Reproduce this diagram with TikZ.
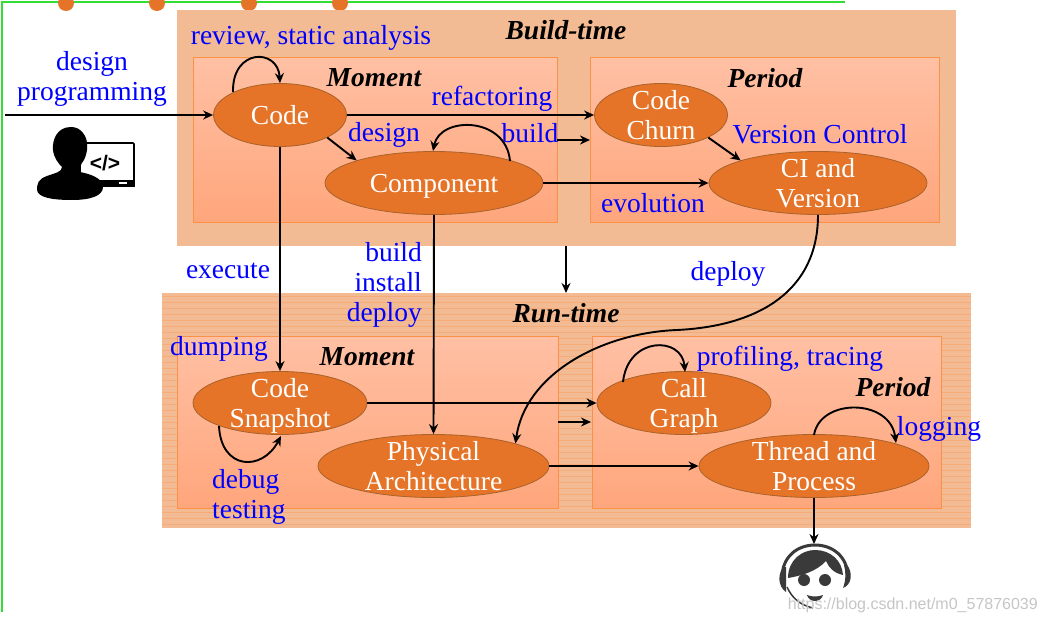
\documentclass[tikz,border=0pt]{standalone}
\usepackage{fontspec}
\setmainfont{Liberation Serif}
\setsansfont{Liberation Sans}
\usetikzlibrary{arrows.meta,shapes.geometric}
\definecolor{tan1}{HTML}{F2BB93}
\definecolor{boxedge}{HTML}{F99248}
\definecolor{ell}{HTML}{E57428}
\definecolor{elledge}{HTML}{A8622A}
\definecolor{hatch}{HTML}{F5AC78}
\definecolor{innerTop}{HTML}{FFC0A4}
\definecolor{innerBot}{HTML}{FFA67C}
\definecolor{greenline}{HTML}{33DD33}
\definecolor{ico}{HTML}{3A3A3A}
\newcommand{\twolines}[2]{\makebox[0pt]{\raisebox{-9.4pt}[0pt][0pt]{\begin{tabular}{@{}c@{}}#1\\#2\end{tabular}}}}
\tikzset{
 x=1pt,y=-1pt,
 panel/.style={fill=tan1,draw=none},
 inner/.style={draw=boxedge,line width=1pt,top color=innerTop,bottom color=innerBot},
 state/.style={ellipse,draw=elledge,fill=ell,line width=.8pt,text=white,font=\fontsize{27.5}{30}\selectfont,inner sep=0pt,minimum height=63pt},
 lab/.style={text=blue,font=\fontsize{27.5}{30}\selectfont,align=center,inner sep=0pt},
 head/.style={font=\fontsize{27.5}{30}\selectfont\bfseries\itshape,inner sep=0pt},
 flow/.style={draw=black,line width=1.9pt,-{Stealth[length=10pt,width=9pt]}},
 frameline/.style={draw=greenline,line width=1.2pt},
 dot/.style={fill=ell,circle,minimum size=16pt,inner sep=0pt},
}
\begin{document}
\begin{tikzpicture}
\useasboundingbox (0,0) rectangle (1047,623);
\fill[white] (0,0) rectangle (1047,623);
% frame
\draw[frameline] (2,612) -- (2,2) -- (845,2);
\foreach \i/\xx in {a/66,b/157,c/249,d/340}{
 \node[dot] (dot\i) at (\xx,3) {};
}
% panels
\fill[panel] (177,10) rectangle (956,246);
\fill[panel] (162,293) rectangle (971,528);
\foreach \yy in {296,302,...,526}{
 \draw[hatch,line width=.8pt] (162,\yy) -- (971,\yy);
}
\draw[inner] (193,58) rectangle (557,222);
\draw[inner] (590,58) rectangle (939,222);
\draw[inner] (177,336) rectangle (558,508);
\draw[inner] (592,336) rectangle (941,508);
% headings
\node[head] (hb) at (566,30) {Build-time};
\node[head] (hr) at (566,313) {Run-time};
\node[head] (hm1) at (374,78) {Moment};
\node[head] (hp1) at (765,78) {Period};
\node[head] (hm2) at (367,357) {Moment};
\node[head] (hp2) at (893,387) {Period};
% states
\node[state,minimum width=133pt] (code) at (280,115) {Code};
\node[state,minimum width=218pt,text depth=0pt] (comp) at (434,183) {Component};
\node[state,minimum width=133pt] (churn) at (661,115) {\twolines{Code}{Churn}};
\node[state,minimum width=218pt] (ci) at (818,183) {\twolines{CI and}{Version}};
\node[state,minimum width=174pt] (snap) at (280,403) {\twolines{Code}{Snapshot}};
\node[state,minimum width=231pt] (phys) at (433.5,466) {\twolines{Physical}{Architecture}};
\node[state,minimum width=174pt] (call) at (684,403) {\twolines{Call}{Graph}};
\node[state,minimum width=230pt] (thread) at (814,466) {\twolines{Thread and}{Process}};
% labels
\node[lab] (l1) at (92,79) {design\\programming};
\node[lab] (l2) at (311,38) {review, static analysis};
\node[lab] (l3) at (492,99) {refactoring};
\node[lab] (l4) at (384,135) {design};
\node[lab] (l5) at (530,133) {build};
\node[lab] (l6) at (820,134) {Version Control};
\node[lab] (l7) at (653,203) {evolution};
\node[lab] (l8) at (228,271) {execute};
\node[lab,align=right,anchor=east] (l9) at (422,285) {build\\install\\deploy};
\node[lab] (l11) at (728,274) {deploy};
\node[lab] (l12) at (219,349) {dumping};
\node[lab] (l13) at (790,359) {profiling, tracing};
\node[lab] (l14) at (939,429) {logging};
\node[lab,align=left,anchor=west] (l15) at (212,497) {debug\\testing};
% coordinates
\coordinate (start) at (5,115);
\coordinate (buildA) at (557,140);
\coordinate (buildB) at (590,140);
\coordinate (runA) at (558,422);
\coordinate (runB) at (591,422);
\coordinate (bt) at (566,246);
\coordinate (rt) at (566,293);
\coordinate (agent) at (814,544);
% connectors
\draw[flow] (start) -- (code.west);
\draw[flow] (code.east) -- (churn.west);
\draw[flow] (code.south east) -- (comp.north west);
\draw[flow] (churn.south east) -- (ci.north west);
\draw[flow] (comp.east) -- (ci.west);
\draw[flow] (code.south) -- (snap.north);
\draw[flow] (comp.south) -- (phys.north);
\draw[flow] (buildA) -- (buildB);
\draw[flow] (runA) -- (runB);
\draw[flow] (bt) -- (rt);
\draw[flow] (snap.east) -- (call.west);
\draw[flow] (phys.east) -- (thread.west);
\draw[flow] (thread.south) -- (agent);
\draw[flow] (ci.south) .. controls (818,290) and (760,326) .. (677,330) .. controls (600,333) and (525,375) .. (phys.north east);
% loops
\draw[flow] (233,92) .. controls (232,48) and (278,48) .. (code.north);
\draw[flow] (510,161) .. controls (506,116) and (440,116) .. (433,151);
\draw[flow] (623,382) .. controls (628,336) and (682,336) .. (685,372);
\draw[flow] (814,435) .. controls (820,398) and (890,398) .. (896,443);
\draw[flow] (219,426) .. controls (221,470) and (262,472) .. (281,436);
% person icon
\draw[black,line width=1.6pt,fill=white,rounded corners=1pt] (80,143) rectangle (134,186);
\fill[black] (80,180) rectangle (135,187);
\fill[white] (119,181.5) rectangle (127,184);
\fill[black] (71,127) .. controls (57,127) and (52,140) .. (53,150) .. controls (54,158) and (58,163) .. (62,167) .. controls (62,172) and (55,173) .. (47,176) .. controls (38,179) and (37,184) .. (37,190) .. controls (38,197) and (50,200) .. (72,200) .. controls (90,200) and (103,196) .. (103,187) .. controls (103,178) and (90,174) .. (80,172) .. controls (79,168) and (81,164) .. (84,160) .. controls (88,152) and (89,140) .. (83,133) .. controls (80,129) and (76,127) .. (71,127) -- cycle;
\node[font=\fontsize{21}{21}\selectfont\sffamily\bfseries,inner sep=0pt] (codetag) at (105,163) {</>};
% agent icon
\draw[ico,line width=3pt] (782,578) .. controls (782,556) and (798,545) .. (815,545) .. controls (832,545) and (848,556) .. (848,578);
\fill[ico] (784,567) .. controls (778,572) and (777,586) .. (786,592) -- (786,567) -- cycle;
\fill[ico] (847,565) .. controls (853,572) and (852,585) .. (843,588) .. controls (846,580) and (846,572) .. (844,565) -- cycle;
\fill[ico] (788,578) .. controls (788,560) and (802,550) .. (815,550) .. controls (830,550) and (842,560) .. (843,575) .. controls (834,573) and (829,568) .. (826,561) .. controls (816,572) and (800,576) .. (788,578) -- cycle;
\draw[ico,line width=1.5pt] (787,587) .. controls (792,598) and (800,605) .. (813,608);
\fill[ico] (804,580) circle (6pt);
\fill[ico] (825,580) circle (6pt);
\fill[ico] (807,595) .. controls (812,597) and (818,597) .. (823,595) .. controls (821,603) and (809,603) .. (807,595) -- cycle;
\node[text=gray!45,font=\fontsize{16}{16}\selectfont\sffamily,inner sep=0pt,anchor=east] (mark) at (1038,605) {https://blog.csdn.net/m0\_57876039};
\end{tikzpicture}
\end{document}
